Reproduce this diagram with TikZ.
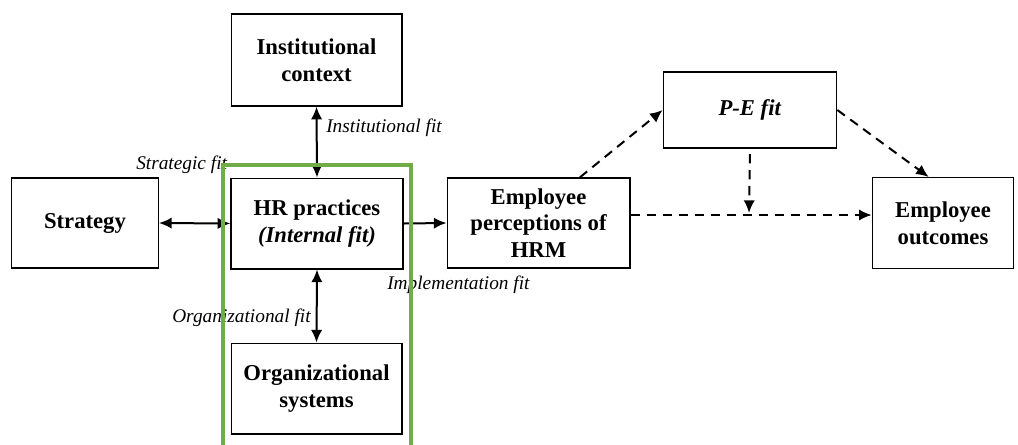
\documentclass[tikz,border=0pt]{standalone}
\usepackage{fontspec}
\setmainfont{Liberation Serif}
\usetikzlibrary{arrows.meta,calc}
\definecolor{framegreen}{HTML}{70AD47}
\newcommand{\boxfont}{\fontsize{17}{20}\selectfont\bfseries}
\newcommand{\fitfont}{\fontsize{14.5}{17}\selectfont\itshape}

\begin{document}
\begin{tikzpicture}[x=0.75pt, y=-0.75pt, >={Latex[length=9.5pt,width=8.5pt]},
        box/.style={draw, line width=1pt, inner sep=2pt, align=center, font=\boxfont},
        fitlabel/.style={font=\fitfont, anchor=west, inner sep=0pt},
        link/.style={line width=1.5pt},
        dashlink/.style={line width=1.5pt, dash pattern=on 7pt off 5pt, ->}]
                \useasboundingbox (0,0) rectangle (1018,444);
                % boxes
                \node [box, minimum width=128pt, minimum height=69pt] (inst) at (316.5,60) {Institutional\\context};
                \node [box, minimum width=110pt, minimum height=67.5pt] (strat) at (85,223) {Strategy};
                \node [box, minimum width=129pt, minimum height=68pt] (hr) at (317,223.5) {HR practices\\\textit{(Internal fit)}};
                \node [box, minimum width=128pt, minimum height=68pt] (org) at (316.5,388.5) {Organizational\\systems};
                \node [box, minimum width=137pt, minimum height=67.5pt] (perc) at (538.5,223) {Employee\\perceptions of\\HRM};
                \node [box, minimum width=130pt, minimum height=57pt] (pe) at (750,110) {\textit{P-E fit}};
                \node [box, minimum width=106pt, minimum height=68pt] (out) at (943,223) {Employee\\outcomes};
                % solid links
                \draw [link, <->] (strat.east) -- (hr.west);
                \draw [link, <->] (inst.south) -- (hr.north);
                \draw [link, <->] (hr.south) -- (org.north);
                \draw [link, ->] (hr.east) -- (perc.west);
                % dashed links
                \coordinate (join) at (749,213);
                \draw [dashlink] ($(perc.north)!0.45!(perc.north east)$) -- (pe.west);
                \draw [dashlink] (pe.east) -- ($(out.north)!0.2!(out.north west)$);
                \draw [dashlink] ([yshift=-4pt]pe.south) -- (join);
                \draw [dashlink] ([yshift=6pt]perc.east) -- ([yshift=6pt]out.west);
                % labels
                \node [fitlabel] (instfit) at (326,128) {Institutional fit};
                \node [fitlabel] (stratfit) at (136,165) {Strategic fit};
                \node [fitlabel] (implfit) at (387,285) {Implementation fit};
                \node [fitlabel] (orgfit) at (172,318) {Organizational fit};
                % green frame
                \draw [framegreen, line width=2.3pt] (223,446) |- (411,165) -- (411,446);
\end{tikzpicture}
\end{document}
